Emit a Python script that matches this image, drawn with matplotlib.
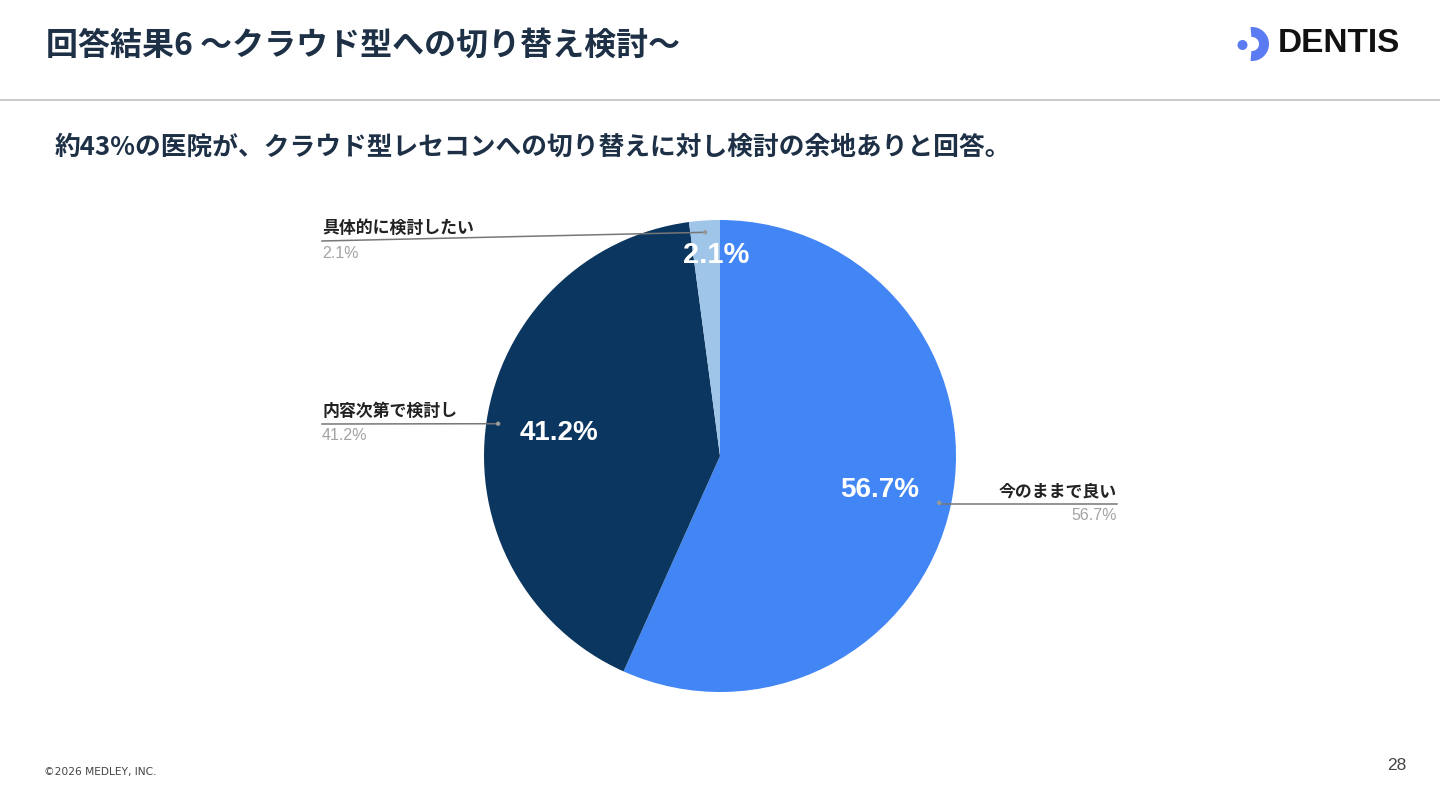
import numpy as np
import matplotlib.pyplot as plt
from matplotlib.patches import Circle, Wedge

# Chart data
categories = ['今のままで良い', '内容次第で検討し', '具体的に検討したい']
shares = [56.7, 41.2, 2.1]
slice_colors = ['#4285F4', '#0A365F', '#9FC5E8']

title = '回答結果6 〜クラウド型への切り替え検討〜'
subtitle = '約43%の医院が、クラウド型レセコンへの切り替えに対し検討の余地ありと回答。'

W, H = 1440, 810
JP = ['Noto Sans CJK JP', 'DejaVu Sans']
plt.rcParams['font.family'] = JP

fig = plt.figure(figsize=(W / 100, H / 100), dpi=100)
ax = fig.add_axes([0, 0, 1, 1])


def py(y):
    # pixel row (from top) -> data y
    return H - y


# pie
cx, cy, R = 720, py(456), 236
wedges, _, autotexts = ax.pie(
    shares, colors=slice_colors, startangle=90, counterclock=False,
    center=(cx, cy), radius=R, autopct='%1.1f%%', pctdistance=0.69,
    wedgeprops=dict(linewidth=0), frame=True,
    textprops=dict(color='white', fontsize=20, fontweight='bold',
                   family='Liberation Sans'))
ax.set_xlim(0, W)
ax.set_ylim(0, H)
ax.set_aspect('equal')
ax.axis('off')
autotexts[2].set_position((cx - 4, cy + 0.85 * R))
autotexts[2].set_fontsize(21)

# header
ax.text(46, py(46), title, fontsize=23, fontweight='bold', color='#1d3046',
        va='center', ha='left')
ax.plot([0, W], [py(100), py(100)], color='#cccccc', lw=1.5)
ax.text(55, py(147), subtitle, fontsize=18.5, fontweight='bold', color='#1d3046',
        va='center', ha='left')

# logo
logo_blue = '#5B7BF3'
ax.add_patch(Circle((1242.5, py(45)), 5, color=logo_blue, lw=0))
ax.add_patch(Wedge((1252, py(44)), 17, -95, 95, width=10, color=logo_blue, lw=0))
ax.text(1278, py(44), 'DENTIS', fontsize=24, fontweight='bold', color='#111111',
        family='Liberation Sans', va='center', ha='left')

# outside labels with leader lines
label_pos = [
    (1117, 504, 'right'),
    (322, 424, 'left'),
    (322, 241, 'left'),
]
for w, cat, val, (lx, ly, side) in zip(wedges, categories, shares, label_pos):
    mid = np.deg2rad((w.theta1 + w.theta2) / 2)
    dx, dy = cx + 0.95 * R * np.cos(mid), cy + 0.95 * R * np.sin(mid)
    if side == 'right':
        ax.plot([dx, lx], [py(ly), py(ly)], color='#777777', lw=1.1)
    else:
        ax.plot([dx, lx], [dy, py(ly)], color='#777777', lw=1.1)
    ax.add_patch(Circle((dx, dy), 2.2, color='#999999', lw=0, zorder=5))
    ax.text(lx, py(ly - 13), cat, fontsize=12.2, fontweight='bold', color='#222222',
            ha=side, va='center')
    ax.text(lx, py(ly + 12), f'{val}%', fontsize=11.5, color='#a3a3a3',
            family='Liberation Sans', ha=side, va='center')

# footer
ax.text(44, py(772), '©2026 MEDLEY, INC.', fontsize=7.7, color='#444444',
        family='Liberation Sans Narrow', va='center', ha='left')
ax.text(1406, py(766), '28', fontsize=12.5, color='#444444',
        family='Liberation Sans', va='center', ha='right')

fig.savefig('out.png', dpi=100)
